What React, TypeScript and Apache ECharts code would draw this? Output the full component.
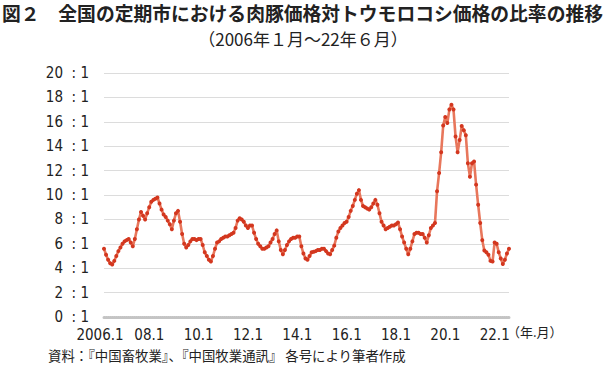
import React, { useEffect, useRef } from "react";
import * as echarts from "echarts";

const title1 = "図２　全国の定期市における肉豚価格対トウモロコシ価格の比率の推移";
const title2 = "（2006年１月～22年６月）";
const sourceNote = "資料：『中国畜牧業』、『中国牧業通訊』 各号により筆者作成";
const xUnit = "（年.月）";

const startYear = 2006;
const tickLabels = ["2006.1", "08.1", "10.1", "12.1", "14.1", "16.1", "18.1", "20.1", "22.1"];
const yTicks = [0, 2, 4, 6, 8, 10, 12, 14, 16, 18, 20];

const v2006 = [5.6, 5.1, 4.7, 4.4, 4.3, 4.6, 5.0, 5.4, 5.7, 6.0, 6.2, 6.3];
const v2007 = [6.4, 6.1, 5.8, 6.4, 7.2, 8.0, 8.6, 8.3, 8.0, 8.5, 9.0, 9.45];
const v2008 = [9.6, 9.7, 9.8, 9.3, 8.8, 8.4, 8.2, 7.9, 7.6, 7.2, 7.9, 8.5];
const v2009 = [8.7, 7.8, 6.8, 6.0, 5.7, 5.9, 6.2, 6.4, 6.4, 6.3, 6.4, 6.4];
const v2010 = [5.9, 5.3, 5.0, 4.7, 4.55, 5.0, 5.6, 6.1, 6.2, 6.4, 6.5, 6.6];
const v2011 = [6.6, 6.7, 6.8, 6.9, 7.3, 7.9, 8.1, 8.0, 7.8, 7.5, 7.3, 7.5];
const v2012 = [7.5, 6.9, 6.4, 6.0, 5.8, 5.6, 5.6, 5.7, 5.8, 6.1, 6.4, 6.8];
const v2013 = [7.1, 6.2, 5.5, 5.15, 5.5, 5.9, 6.2, 6.4, 6.5, 6.5, 6.6, 6.6];
const v2014 = [5.8, 5.2, 4.8, 4.7, 5.0, 5.3, 5.35, 5.4, 5.5, 5.5, 5.6, 5.6];
const v2015 = [5.4, 5.2, 5.15, 5.5, 5.85, 6.5, 7.0, 7.3, 7.5, 7.7, 7.8, 8.2];
const v2016 = [8.7, 9.1, 9.6, 10.1, 10.4, 9.6, 9.1, 9.0, 8.9, 8.8, 9.0, 9.3];
const v2017 = [9.6, 9.2, 8.5, 7.8, 7.5, 7.2, 7.3, 7.4, 7.5, 7.5, 7.6, 7.75];
const v2018 = [7.2, 6.6, 6.1, 5.6, 5.15, 5.6, 6.2, 6.8, 6.9, 6.9, 6.8, 6.8];
const v2019 = [6.5, 6.1, 6.7, 7.3, 7.5, 7.7, 10.3, 11.8, 13.5, 15.7, 16.4, 15.9];
const v2020 = [17.0, 17.4, 17.0, 14.8, 13.5, 14.5, 15.65, 15.3, 14.9, 12.6, 11.5, 12.6];
const v2021 = [12.75, 10.85, 9.2, 7.7, 6.3, 5.45, 5.3, 5.1, 4.6, 4.55, 6.1, 6.0];
const v2022 = [5.3, 4.8, 4.35, 4.7, 5.2, 5.6];

const yearly = [v2006, v2007, v2008, v2009, v2010, v2011, v2012, v2013, v2014, v2015, v2016, v2017, v2018, v2019, v2020, v2021, v2022];

const categories: string[] = [];
const values: number[] = [];
yearly.forEach((arr, yi) => {
  arr.forEach((v, mi) => {
    categories.push(`${startYear + yi}.${mi + 1}`);
    values.push(v);
  });
});

const FONT_NUM = "'Liberation Sans Narrow', 'DejaVu Sans Condensed', 'Arial Narrow', 'Liberation Sans', sans-serif";
const FONT_JP = "'Noto Sans CJK JP', sans-serif";

export default function App() {
  const ref = useRef<HTMLDivElement>(null);
  useEffect(() => {
    if (!ref.current) return;
    const chart = echarts.init(ref.current, null, { renderer: "svg" });
    chart.setOption({
      animation: false,
      backgroundColor: "#ffffff",
      grid: { left: 104, right: 97, top: 73, bottom: 51, containLabel: false },
      xAxis: {
        type: "category",
        data: categories,
        boundaryGap: false,
        axisLine: { show: true, lineStyle: { color: "#c4c4c4", width: 3, type: [1, 1] } },
        axisTick: { show: false },
        splitLine: { show: false },
        axisLabel: {
          interval: 0,
          margin: 10,
          color: "#222",
          fontSize: 15,
          fontFamily: FONT_NUM,
          padding: [0, 8, 0, 0],
          formatter: (_v: string, idx: number) => (idx % 24 === 0 ? tickLabels[idx / 24] : ""),
        },
      },
      yAxis: {
        type: "value",
        min: 0,
        max: 20,
        interval: 2,
        axisLine: { show: false },
        axisTick: { show: false },
        splitLine: { show: true, lineStyle: { color: "#dcdcdc", width: 1 } },
        axisLabel: {
          margin: 15,
          color: "#222",
          fontSize: 15,
          fontFamily: FONT_NUM,
          formatter: (v: number) => (yTicks.includes(v) ? `${v}  : 1` : ""),
        },
      },
      series: [
        {
          type: "line",
          data: values,
          showSymbol: true,
          symbol: "circle",
          symbolSize: 4,
          itemStyle: { color: "#d3371f" },
          lineStyle: { color: "#e8775c", width: 2.6 },
        },
      ],
      graphic: [
        {
          type: "text",
          left: 2,
          top: 3,
          style: { text: title1, font: `bold 18.8px ${FONT_JP}`, fill: "#222" },
        },
        {
          type: "text",
          left: "center",
          top: 30,
          style: { text: title2, font: `17px ${FONT_JP}`, fill: "#222" },
        },
        {
          type: "text",
          left: 507,
          top: 325,
          style: { text: xUnit, font: `13px ${FONT_JP}`, fill: "#222" },
        },
        {
          type: "text",
          left: 48,
          top: 348,
          style: { text: sourceNote, font: `13.4px ${FONT_JP}`, fill: "#222" },
        },
      ],
    });
    return () => chart.dispose();
  }, []);
  return <div ref={ref} style={{ position: "absolute", left: 0, top: 0, width: 606, height: 368 }} />;
}
